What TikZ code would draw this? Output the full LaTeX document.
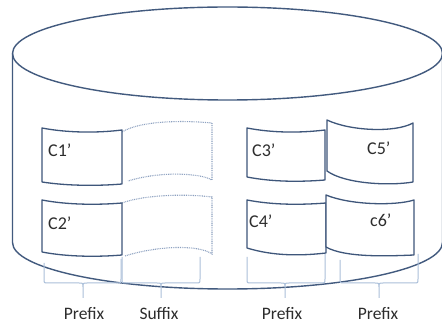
\documentclass[tikz,border=0pt]{standalone}
\usepackage{fontspec}
\setmainfont{Carlito}
\definecolor{cylcol}{RGB}{66,90,126}
\definecolor{boxcol}{RGB}{62,86,122}
\definecolor{dotcol}{RGB}{140,160,192}
\definecolor{bracecol}{RGB}{172,192,218}
\definecolor{txtcol}{RGB}{45,45,45}
% curly brace opening upwards: left x, left top y, middle x, right x, right top y
\newcommand{\openbrace}[5]{%
  \draw[bracestyle] (#1,#2) -- (#1,279) .. controls (#1,283) .. (#1+4,283)
    -- (#3-4,283) .. controls (#3,283) .. (#3,287)
    .. controls (#3,283) .. (#3+4,283) -- (#4-4,283)
    .. controls (#4,283) .. (#4,279) -- (#4,#5)
    (#3,287) -- (#3,298);}
\begin{document}
\begin{tikzpicture}[x=1pt,y=-1pt,
  cylline/.style={draw=cylcol,line width=1.4pt},
  cellbox/.style={draw=boxcol,line width=1.3pt,fill=white,line join=round},
  sufbox/.style={draw=dotcol,line width=1.1pt,dash pattern=on 0.9pt off 0.9pt},
  bracestyle/.style={draw=bracecol,line width=1pt},
  celltext/.style={font=\fontsize{18}{20}\selectfont,text=txtcol,anchor=base west,inner sep=0pt},
  grouptext/.style={font=\fontsize{17.5}{19}\selectfont,text=txtcol,anchor=base,inner sep=0pt}]
\useasboundingbox (0,0) rectangle (442,323);
\fill[white] (0,0) rectangle (442,323);

% storage cylinder
\draw[cylline] (12.5,53.5) -- (12.5,242.5)
  arc[start angle=180,end angle=360,x radius=215pt,y radius=46.5pt] -- (442.5,53.5);
\draw[cylline] (227.5,53.5) ellipse[x radius=215pt,y radius=46.5pt];

% suffix groups (dotted outlines)
\draw[sufbox] (122,132) .. controls (140,121) and (180,120) .. (212,123)
  -- (212,180) .. controls (200,173) and (160,171) .. (128,181);
\draw[sufbox] (122,203) .. controls (140,196) and (180,193) .. (212,197)
  -- (212,254) .. controls (200,245) and (160,245) .. (125,256);

% column cells
\draw[cellbox] (42,128) .. controls (68,133) and (98,133) .. (122,130)
  -- (122,184) .. controls (98,186) and (68,186) .. (42,182) -- cycle;
\draw[cellbox] (42,200) .. controls (68,205) and (98,205) .. (122,203)
  -- (122,255) .. controls (98,257) and (68,257) .. (42,252) -- cycle;
\draw[cellbox] (247,128) .. controls (273,133) and (300,133) .. (325,130)
  -- (325,180) .. controls (300,182) and (273,182) .. (247,177) -- cycle;
\draw[cellbox] (247,200) .. controls (273,205) and (300,205) .. (326,203)
  -- (326,253) .. controls (300,256) and (273,256) .. (247,248) -- cycle;
\draw[cellbox] (327,120) .. controls (350,131) and (395,133) .. (413,123)
  -- (413,182) .. controls (390,186) and (345,184) .. (327,171) -- cycle;
\draw[cellbox] (326,195) .. controls (350,205) and (395,206) .. (414,200)
  -- (414,255) .. controls (390,256) and (345,258) .. (326,247) -- cycle;

\node[celltext] (c1) at (48,157) {C1’};
\node[celltext] (c2) at (48,230) {C2’};
\node[celltext] (c3) at (252,157) {C3’};
\node[celltext] (c4) at (249,228) {C4’};
\node[celltext] (c5) at (367,155) {C5’};
\node[celltext] (c6) at (370,227) {c6’};

% group braces
\openbrace{44}{263}{83}{121}{259}
\openbrace{122}{257}{161}{200}{257}
\openbrace{247}{257}{285}{325}{254}
\openbrace{340}{260}{379}{418}{254}

\node[grouptext] (g1) at (84,319.5) {Prefix};
\node[grouptext] (g2) at (159,319.5) {Suffix};
\node[grouptext] (g3) at (282,319.5) {Prefix};
\node[grouptext] (g4) at (378,319.5) {Prefix};
\end{tikzpicture}
\end{document}
